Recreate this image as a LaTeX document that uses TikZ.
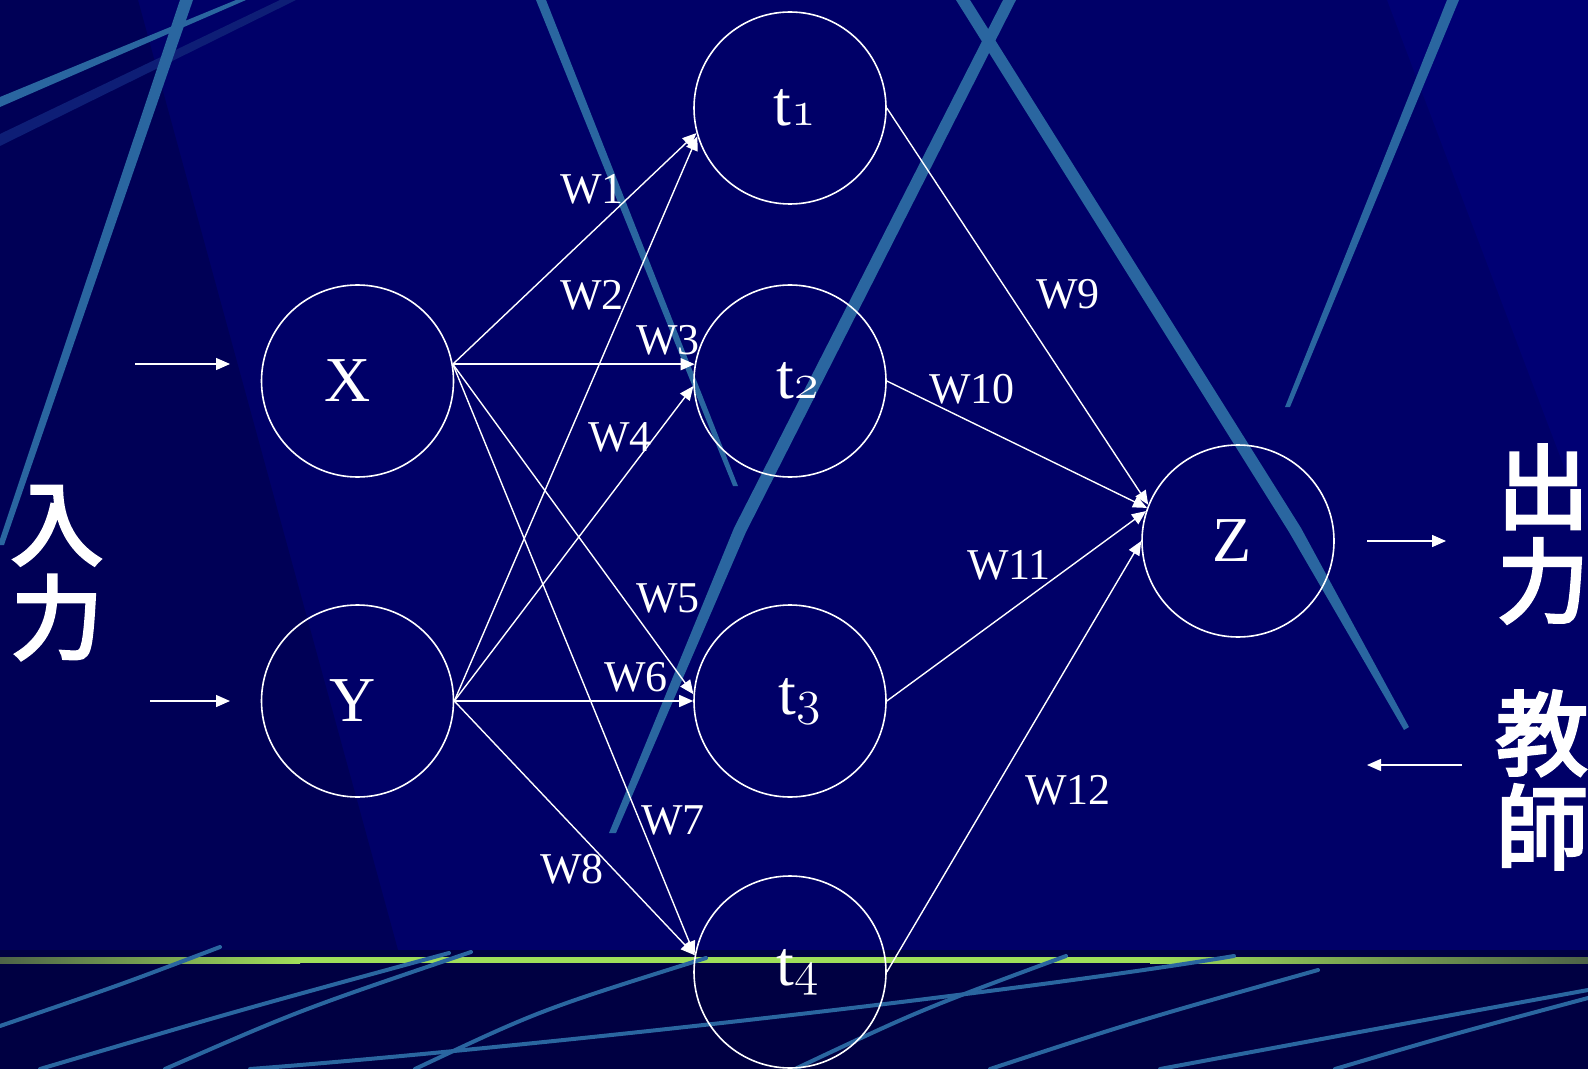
\documentclass[tikz,border=0pt]{standalone}
\usepackage{fontspec}
\setmainfont{Liberation Serif}
\newfontfamily\cjk[FakeBold=3.5]{Noto Sans CJK JP}
\usetikzlibrary{arrows.meta}
\definecolor{navy}{RGB}{0,0,104}
\definecolor{navydark}{RGB}{0,0,86}
\definecolor{navylight}{RGB}{0,0,116}
\definecolor{bottomdark}{RGB}{0,0,66}
\definecolor{streak}{RGB}{42,102,160}
\definecolor{streakdim}{RGB}{14,30,118}
\definecolor{lime}{RGB}{160,222,90}
\definecolor{olive}{RGB}{78,100,72}
\newcommand{\osn}[1]{{\usefont{OML}{lmm}{m}{it}#1}}
\begin{document}
\begin{tikzpicture}[x=0.5pt,y=-0.5pt,
  neuron/.style={circle,draw=white,line width=0.8pt,minimum size=96pt,inner sep=0pt,text=white,font=\fontsize{32}{32}\selectfont},
  conn/.style={draw=white,line width=0.7pt,-{Triangle[length=7pt,width=6pt]}},
  wlab/.style={text=white,font=\fontsize{22}{22}\selectfont,inner sep=0pt},
  cjklab/.style={text=white,font=\cjk\fontsize{46}{47}\selectfont,align=center,inner sep=0pt},
  streakline/.style={draw=streak,line cap=round,line join=round},
]
\useasboundingbox (0,0) rectangle (1588,1069);
\clip (0,0) rectangle (1588,1069);
% background
\fill[navy] (0,0) rectangle (1588,1069);
\fill[navydark] (0,0) -- (138,0) -- (398,950) -- (0,950) -- cycle;
\fill[navylight] (1387,0) -- (1588,0) -- (1588,530) -- cycle;
\fill[bottomdark] (0,950) rectangle (1588,1069);
% green rule
\shade[left color=olive,right color=lime] (0,957) rectangle (300,963);
\fill[lime] (299,957) rectangle (1151,963);
\shade[left color=lime,right color=olive] (1150,957) rectangle (1588,963);
% upper streaks
\fill[streakdim] (0,134) -- (280,0) -- (296,0) -- (0,146) -- cycle;
\fill[streak] (0,97) -- (236,0) -- (246,0) -- (0,107) -- cycle;
\fill[streak] (180,0) -- (193,0) -- (4,545) -- (-2,545) -- cycle;
\fill[streak] (536,0) -- (546,0) -- (738,486) -- (733,486) -- cycle;
\fill[streak] (1003,0) -- (1016,0) -- (746,532) -- (616,833) -- (609,833) -- (734,528) -- cycle;
\fill[streak] (956,0) -- (970,0) -- (1301,528) -- (1409,727) -- (1404,730) -- (1289,532) -- cycle;
\fill[streak] (1447,0) -- (1459,0) -- (1290,407) -- (1285,407) -- cycle;
% lower streaks
\begin{scope}[streakline,line width=2pt]
\draw (220,947) .. controls (120,985) .. (0,1026);
\draw (449,953) .. controls (240,1010) .. (40,1069);
\draw (471,952) .. controls (300,1010) .. (165,1069);
\draw (706,958) .. controls (540,1010) .. (415,1069);
\draw (250,1069) .. controls (500,1050) and (1000,995) .. (1234,956);
\draw (1066,956) .. controls (920,1010) .. (795,1069);
\draw (1318,970) .. controls (1140,1020) .. (990,1069);
\draw (1588,990) .. controls (1370,1030) .. (1160,1069);
\draw (1588,998) .. controls (1450,1035) .. (1335,1069);
\end{scope}
% neurons
\node[neuron] (X) at (357.5,381) {\hspace*{-10pt}X};
\node[neuron] (Y) at (357.5,701) {\hspace*{-5pt}Y};
\node[neuron] (t1) at (790,108) {\hspace*{5pt}t\osn{1}};
\node[neuron] (t2) at (790,381) {\hspace*{8pt}t\osn{2}};
\node[neuron] (t3) at (790,701) {\hspace*{10pt}t\osn{3}};
\node[neuron] (t4) at (790,972) {\hspace*{8pt}t\osn{4}};
\node[neuron] (Z) at (1238,541) {\hspace*{-6pt}Z};
% connectors
\draw[conn] (X.10) -- (t1.195);
\draw[conn] (Y.east) -- (t1.197);
\draw[conn] (X.10) -- (t2.170);
\draw[conn] (Y.east) -- (t2.183);
\draw[conn] (X.10) -- (t3.176);
\draw[conn] (Y.east) -- (t3.west);
\draw[conn] (X.10) -- (t4.170);
\draw[conn] (Y.east) -- (t4.170);
\draw[conn] (t1.east) -- (Z.158);
\draw[conn] (t2.east) -- (Z.160);
\draw[conn] (t3.east) -- (Z.162);
\draw[conn] (t4.east) -- (Z.west);
% weight labels
\node[wlab] (w1) at (592,189) {W1};
\node[wlab] (w2) at (592,295) {W2};
\node[wlab] (w3) at (668,340) {W3};
\node[wlab] (w4) at (620,437) {W4};
\node[wlab] (w5) at (668,598) {W5};
\node[wlab] (w6) at (636,677) {W6};
\node[wlab] (w7) at (673,820) {W7};
\node[wlab] (w8) at (572,869) {W8};
\node[wlab] (w9) at (1068,294) {W9};
\node[wlab] (w10) at (972,389) {W10};
\node[wlab] (w11) at (1009,565) {W11};
\node[wlab] (w12) at (1068,790) {W12};
% in/out arrows
\coordinate (inX0) at (135,364); \coordinate (inX1) at (230,364);
\coordinate (inY0) at (150,701); \coordinate (inY1) at (230,701);
\coordinate (out0) at (1367,541); \coordinate (out1) at (1446,541);
\coordinate (tch0) at (1462,765); \coordinate (tch1) at (1367,765);
\draw[conn] (inX0) -- (inX1);
\draw[conn] (inY0) -- (inY1);
\draw[conn] (out0) -- (out1);
\draw[conn] (tch0) -- (tch1);
% CJK labels
\node[cjklab] (inlab) at (57,573) {入\\力};
\node[cjklab] (outlab) at (1543,534) {出\\力};
\node[cjklab] (tchlab) at (1542,780) {教\\師};
\end{tikzpicture}
\end{document}
